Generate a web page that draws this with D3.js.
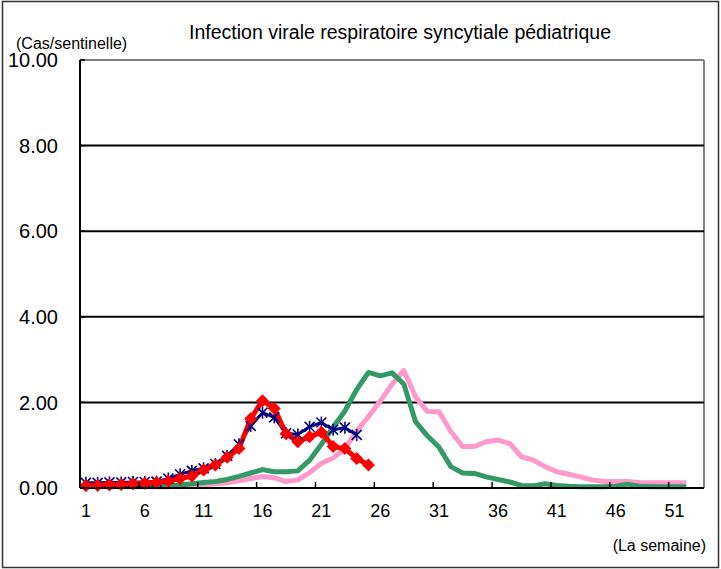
<!doctype html>
<html lang="fr">
	<head>
		<meta charset="UTF-8" />
		<title>Infection virale respiratoire syncytiale pédiatrique</title>
		<script src="https://d3js.org/d3.v7.min.js"></script>
		<style>
			body {
				margin: 0;
				background: #fff;
			}
			svg {
				display: block;
				font-family: 'Liberation Sans', Arial, sans-serif;
			}
			.grid {
				stroke: #000;
				stroke-width: 2px;
			}
		</style>
	</head>
	<body>
		<svg width="721" height="569"></svg>
		<script>
			const weeks = d3.range(1, 54)
			const xTicks = [1, 6, 11, 16, 21, 26, 31, 36, 41, 46, 51]
			const yTicks = [0, 2, 4, 6, 8, 10]

			// saisons (rose et vert = années précédentes, bleu et rouge = récentes)
			const pink = [
				0.03, 0.03, 0.03, 0.03, 0.03, 0.03, 0.03, 0.03, 0.04, 0.05,
				0.07, 0.1, 0.12, 0.17, 0.22, 0.27, 0.24, 0.15, 0.19, 0.36,
				0.58, 0.7, 0.92, 1.33, 1.67, 2.03, 2.42, 2.75, 2.13, 1.79,
				1.78, 1.32, 0.97, 0.97, 1.08, 1.12, 1.04, 0.73, 0.65, 0.5,
				0.38, 0.32, 0.26, 0.19, 0.15, 0.15, 0.15, 0.13, 0.12, 0.12,
				0.12, 0.12
			]
			const green = [
				0.05, 0.05, 0.05, 0.05, 0.05, 0.05, 0.05, 0.06, 0.07, 0.1,
				0.13, 0.15, 0.2, 0.27, 0.35, 0.43, 0.38, 0.38, 0.4, 0.65,
				1.02, 1.42, 1.8, 2.3, 2.7, 2.62, 2.69, 2.43, 1.55, 1.22,
				0.95, 0.5, 0.35, 0.34, 0.26, 0.2, 0.14, 0.06, 0.05, 0.1,
				0.06, 0.04, 0.03, 0.03, 0.03, 0.04, 0.09, 0.04, 0.03, 0.03,
				0.03, 0.03
			]
			const blue = [
				0.12, 0.12, 0.13, 0.13, 0.14, 0.14, 0.15, 0.22, 0.32, 0.4,
				0.46, 0.56, 0.75, 1.02, 1.45, 1.76, 1.65, 1.28, 1.25, 1.43,
				1.53, 1.36, 1.41, 1.24
			]
			const red = [
				0.05, 0.06, 0.07, 0.08, 0.1, 0.11, 0.13, 0.16, 0.22, 0.28,
				0.42, 0.54, 0.72, 0.92, 1.62, 2.04, 1.86, 1.27, 1.08, 1.2,
				1.3, 0.97, 0.92, 0.69, 0.54
			]

			const svg = d3.select('svg')
			const plot = { left: 80, right: 704, top: 60, bottom: 488 }

			const x = d3.scaleBand().domain(weeks).range([plot.left, plot.right])
			const y = d3.scaleLinear().domain([0, 10]).range([plot.bottom, plot.top])
			const cx = (w) => x(w) + x.bandwidth() / 2

			// cadre extérieur
			svg.append('rect')
				.attr('x', 2.5)
				.attr('y', 1.5)
				.attr('width', 716)
				.attr('height', 566)
				.attr('fill', 'none')
				.attr('stroke', '#333')
				.attr('stroke-width', 1.5)

			// bord du graphique
			svg.append('line')
				.attr('x1', plot.left)
				.attr('x2', plot.right)
				.attr('y1', plot.top)
				.attr('y2', plot.top)
				.attr('stroke', '#808080')
				.attr('stroke-width', 2)
			svg.append('line')
				.attr('x1', plot.right)
				.attr('x2', plot.right)
				.attr('y1', plot.top)
				.attr('y2', plot.bottom)
				.attr('stroke', '#808080')
				.attr('stroke-width', 2)

			svg.append('g')
				.selectAll('line')
				.data(yTicks.filter((d) => d > 0 && d < 10))
				.join('line')
				.attr('class', 'grid')
				.attr('x1', plot.left)
				.attr('x2', plot.right)
				.attr('y1', (d) => y(d))
				.attr('y2', (d) => y(d))

			const line = d3
				.line()
				.x((d, i) => cx(weeks[i]))
				.y((d) => y(d))

			const series = [
				{ data: pink, color: '#ff99cc', width: 5 },
				{ data: green, color: '#339966', width: 5 },
				{ data: blue, color: '#000080', width: 3 },
				{ data: red, color: '#ff0000', width: 5 }
			]

			svg.append('g')
				.selectAll('path')
				.data(series)
				.join('path')
				.attr('d', (d) => line(d.data))
				.attr('fill', 'none')
				.attr('stroke', (d) => d.color)
				.attr('stroke-width', (d) => d.width)
				.attr('stroke-linejoin', 'round')

			// marqueurs étoile (bleu)
			const star = svg
				.append('g')
				.selectAll('g')
				.data(blue)
				.join('g')
				.attr('transform', (d, i) => `translate(${cx(weeks[i])},${y(d)})`)
				.attr('stroke', '#000080')
				.attr('stroke-width', 1.6)
			star.append('line').attr('x1', -5).attr('y1', -5).attr('x2', 5).attr('y2', 5)
			star.append('line').attr('x1', -5).attr('y1', 5).attr('x2', 5).attr('y2', -5)
			star.append('line').attr('x1', 0).attr('y1', -6).attr('x2', 0).attr('y2', 6)

			// marqueurs losange (rouge)
			svg.append('g')
				.selectAll('path')
				.data(red)
				.join('path')
				.attr('d', 'M0,-6.5L6.5,0L0,6.5L-6.5,0Z')
				.attr('transform', (d, i) => `translate(${cx(weeks[i])},${y(d)})`)
				.attr('fill', '#ff0000')

			// axes
			svg.append('line')
				.attr('x1', plot.left)
				.attr('x2', plot.left)
				.attr('y1', plot.top)
				.attr('y2', plot.bottom)
				.attr('stroke', '#000')
				.attr('stroke-width', 2)
			svg.append('line')
				.attr('x1', plot.left)
				.attr('x2', plot.right)
				.attr('y1', plot.bottom)
				.attr('y2', plot.bottom)
				.attr('stroke', '#000')
				.attr('stroke-width', 2)

			svg.append('g')
				.selectAll('line')
				.data(yTicks)
				.join('line')
				.attr('x1', plot.left)
				.attr('x2', plot.left + 5)
				.attr('y1', (d) => y(d))
				.attr('y2', (d) => y(d))
				.attr('stroke', '#000')
				.attr('stroke-width', 1.5)

			svg.append('g')
				.selectAll('line')
				.data(xTicks)
				.join('line')
				.attr('x1', (d) => x(d))
				.attr('x2', (d) => x(d))
				.attr('y1', plot.bottom)
				.attr('y2', plot.bottom - 6)
				.attr('stroke', '#000')
				.attr('stroke-width', 1.5)

			svg.append('g')
				.selectAll('text')
				.data(yTicks)
				.join('text')
				.attr('x', 58)
				.attr('y', (d) => y(d))
				.attr('dy', '0.36em')
				.attr('text-anchor', 'end')
				.attr('font-size', 20)
				.text((d) => d.toFixed(2))

			svg.append('g')
				.selectAll('text')
				.data(xTicks)
				.join('text')
				.attr('x', (d) => cx(d))
				.attr('y', 511)
				.attr('dy', '0.36em')
				.attr('text-anchor', 'middle')
				.attr('font-size', 18)
				.text((d) => d)

			svg.append('text')
				.attr('x', 400)
				.attr('y', 32)
				.attr('dy', '0.36em')
				.attr('text-anchor', 'middle')
				.attr('font-family', "'Liberation Sans Narrow', 'Arial Narrow', sans-serif")
				.attr('font-size', 19.5)
				.attr('textLength', 422)
				.text('Infection virale respiratoire syncytiale pédiatrique')

			svg.append('text')
				.attr('x', 16)
				.attr('y', 43)
				.attr('dy', '0.36em')
				.attr('font-size', 16)
				.text('(Cas/sentinelle)')

			svg.append('text')
				.attr('x', 706)
				.attr('y', 545)
				.attr('dy', '0.36em')
				.attr('text-anchor', 'end')
				.attr('font-size', 16)
				.text('(La semaine)')
		</script>
	</body>
</html>
